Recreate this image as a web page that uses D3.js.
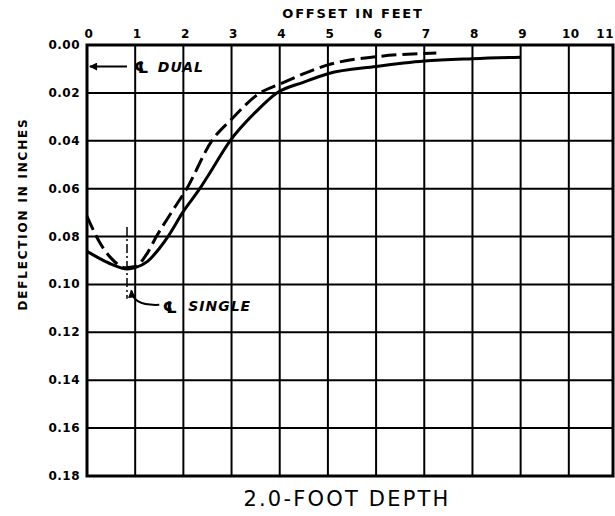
<html>
<head>
<meta charset="utf-8">
<title>Deflection vs offset, 2.0-foot depth</title>
<script src="https://d3js.org/d3.v7.min.js"></script>
<style>
  body { margin: 0; background: #fff; }
  .tick-x, .tick-y { font: bold 12px "DejaVu Sans", sans-serif; fill: #000; letter-spacing: 0.5px; }
  .axis-title { font: bold 13px "DejaVu Sans", sans-serif; fill: #000; letter-spacing: 1.8px; }
  .note { font: italic bold 14px "DejaVu Sans", sans-serif; fill: #000; letter-spacing: 1px; }
  .grid { stroke: #000; stroke-width: 2px; }
  .frame { fill: none; stroke: #000; stroke-width: 3px; }
  .curve { fill: none; stroke: #000; stroke-width: 3px; }
</style>
</head>
<body>
<svg id="chart" width="615" height="516"></svg>
<script>

// offsets (feet) and deflections (inches)
const xTicks = [0, 1, 2, 3, 4, 5, 6, 7, 8, 9, 10, 11];
const yTicks = [0.00, 0.02, 0.04, 0.06, 0.08, 0.10, 0.12, 0.14, 0.16, 0.18];

const solidOffset = [0, 0.25, 0.5, 0.84, 1.0, 1.25, 1.5, 1.68, 2.0, 2.34, 2.5, 2.97, 3.5, 3.94, 4.5, 5, 6, 7, 8, 9];
const solidDefl   = [0.0862, 0.089, 0.0915, 0.0935, 0.093, 0.0905, 0.085, 0.080, 0.0695, 0.060, 0.055, 0.040, 0.028, 0.020, 0.0155, 0.012, 0.009, 0.0067, 0.0057, 0.0051];

const dashOffset = [0, 0.1, 0.25, 0.5, 0.8, 1.0, 1.25, 1.44, 1.75, 2.07, 2.59, 3.0, 3.59, 4.0, 4.5, 5, 6, 7, 7.25];
const dashDefl   = [0.0715, 0.076, 0.082, 0.089, 0.093, 0.0925, 0.087, 0.080, 0.070, 0.060, 0.040, 0.031, 0.020, 0.0163, 0.012, 0.0083, 0.0049, 0.0035, 0.0033];

const svg = d3.select("#chart");

const x = d3.scaleLinear().domain([0, 11]).range([87, 617]);
const y = d3.scaleLinear().domain([0, 0.18]).range([45, 476]);
const xRight = 613;

// grid
svg.append("g").selectAll("line")
    .data(xTicks.filter(function(d) { return d > 0 && x(d) < xRight; }))
    .enter().append("line")
    .attr("class", "grid")
    .attr("x1", function(d) { return x(d); })
    .attr("x2", function(d) { return x(d); })
    .attr("y1", y(0)).attr("y2", y(0.18));

svg.append("g").selectAll("line")
    .data(yTicks.filter(function(d) { return d > 0 && d < 0.18; }))
    .enter().append("line")
    .attr("class", "grid")
    .attr("x1", x(0)).attr("x2", xRight)
    .attr("y1", function(d) { return y(d); })
    .attr("y2", function(d) { return y(d); });

svg.append("rect")
    .attr("class", "frame")
    .attr("x", x(0)).attr("y", y(0))
    .attr("width", xRight - x(0)).attr("height", y(0.18) - y(0));

// tick labels (the last one sits at the page edge, so pull it inside)
svg.append("g").selectAll("text")
    .data(xTicks)
    .enter().append("text")
    .attr("class", "tick-x")
    .attr("text-anchor", function(d) { return x(d) > 600 ? "end" : "middle"; })
    .attr("x", function(d) { return x(d) > 600 ? 614 : x(d) + 2; })
    .attr("y", 38)
    .text(function(d) { return d; });

svg.append("g").selectAll("text")
    .data(yTicks)
    .enter().append("text")
    .attr("class", "tick-y")
    .attr("text-anchor", "end")
    .attr("x", 80)
    .attr("y", function(d) { return y(d) + 4; })
    .text(function(d) { return d.toFixed(2); });

// titles
svg.append("text").attr("class", "axis-title")
    .attr("x", 353).attr("y", 18).attr("text-anchor", "middle")
    .text("OFFSET IN FEET");

svg.append("text").attr("class", "axis-title")
    .attr("transform", "translate(27,214) rotate(-90)")
    .attr("text-anchor", "middle")
    .style("font-size", "12px")
    .text("DEFLECTION IN INCHES");

svg.append("text")
    .attr("x", 347).attr("y", 506).attr("text-anchor", "middle")
    .style("font", "21px 'DejaVu Sans', sans-serif")
    .style("letter-spacing", "2.2px")
    .text("2.0-FOOT DEPTH");

// curves
const line = d3.line()
    .x(function(d) { return x(d[0]); })
    .y(function(d) { return y(d[1]); })
    .curve(d3.curveMonotoneX);

svg.append("path")
    .attr("class", "curve")
    .attr("d", line(d3.zip(solidOffset, solidDefl)));

svg.append("path")
    .attr("class", "curve")
    .attr("stroke-dasharray", "15,6")
    .attr("d", line(d3.zip(dashOffset, dashDefl)));

// annotations
svg.append("defs").append("marker")
    .attr("id", "head")
    .attr("viewBox", "0 -5 10 10")
    .attr("refX", 9).attr("refY", 0)
    .attr("markerWidth", 6).attr("markerHeight", 4)
    .attr("markerUnits", "strokeWidth")
    .attr("orient", "auto")
    .append("path").attr("d", "M0,-5L10,0L0,5Z");

svg.append("line")
    .attr("x1", x(0.83)).attr("x2", x(0.06))
    .attr("y1", y(0.009)).attr("y2", y(0.009))
    .attr("stroke", "#000").attr("stroke-width", 2)
    .attr("marker-end", "url(#head)");

svg.append("text").attr("class", "note")
    .attr("x", x(0.98)).attr("y", y(0.0118))
    .style("font-style", "normal").style("font-size", "16px")
    .text("\u2104");
svg.append("text").attr("class", "note")
    .attr("x", x(1.47)).attr("y", y(0.0113))
    .text("DUAL");

svg.append("line")
    .attr("x1", x(0.83)).attr("x2", x(0.83))
    .attr("y1", y(0.076)).attr("y2", y(0.106))
    .attr("stroke", "#000").attr("stroke-width", 1.5)
    .attr("stroke-dasharray", "9,3,2,3");

svg.append("path")
    .attr("d", "M" + x(1.5) + "," + y(0.1085) + " Q" + x(0.95) + "," + y(0.109) + " " + x(0.92) + "," + y(0.1025))
    .attr("fill", "none").attr("stroke", "#000").attr("stroke-width", 2)
    .attr("marker-end", "url(#head)");

svg.append("text").attr("class", "note")
    .attr("x", x(1.57)).attr("y", y(0.1118))
    .style("font-style", "normal").style("font-size", "16px")
    .text("\u2104");
svg.append("text").attr("class", "note")
    .attr("x", x(2.1)).attr("y", y(0.111))
    .text("SINGLE");

</script>
</body>
</html>
